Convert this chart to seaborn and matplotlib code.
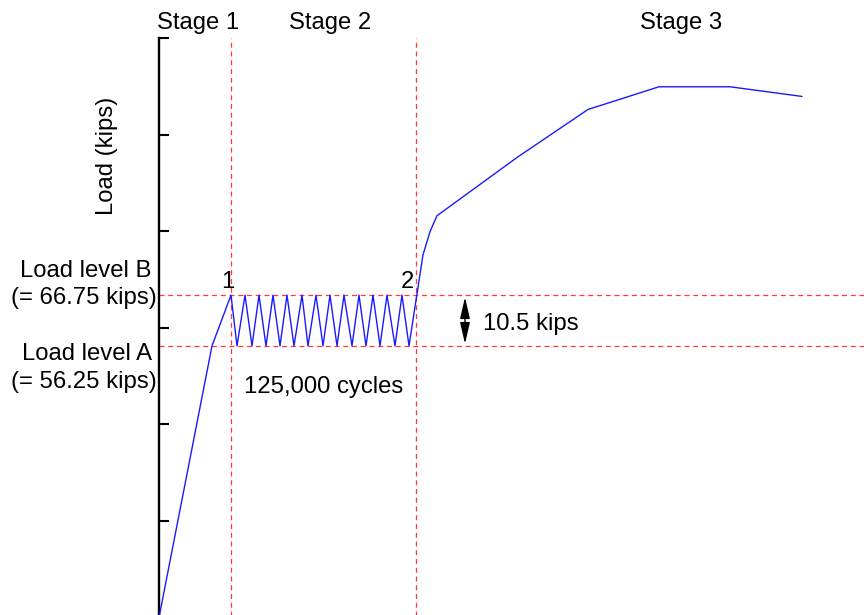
import numpy as np
import pandas as pd
import matplotlib
matplotlib.use("Agg")
import matplotlib.pyplot as plt
import seaborn as sns

# ---------------- data ----------------
# loading path (arbitrary time units along x, load in kips)
stage1_time = [0, 53, 72]
stage1_load = [0, 56.25, 66.75]

cycle_valley_time = [78, 93, 107, 121, 135, 149, 164, 178, 193, 207, 221, 236, 250]
cycle_peak_time = [86, 100, 114, 128, 143, 157, 171, 185, 200, 214, 228, 243]
load_level_A = 56.25
load_level_B = 66.75

stage3_time = [264, 271, 278, 359, 429, 500, 571, 643]
stage3_load = [75.1, 79.9, 83.2, 95.4, 105.2, 109.9, 109.9, 107.9]

stage_boundaries = [72, 257]
y_ticks = [0, 20, 40, 60, 80, 100, 120]
stage_labels = ["Stage 1", "Stage 2", "Stage 3"]

# build the full path
time = list(stage1_time)
load = list(stage1_load)
for i, tv in enumerate(cycle_valley_time):
    time.append(tv)
    load.append(load_level_A)
    if i < len(cycle_peak_time):
        time.append(cycle_peak_time[i])
        load.append(load_level_B)
time += stage3_time
load += stage3_load
df = pd.DataFrame({"time": time, "load": load})

# ---------------- figure ----------------
sns.set_theme(style="white")
plt.rcParams["font.family"] = ["Liberation Sans", "DejaVu Sans"]

W, H = 864, 615
fig = plt.figure(figsize=(W / 100, H / 100), dpi=100)
ax = fig.add_axes([159 / W, -2.5 / H, 1 - 159 / W, 579.5 / H])

sns.lineplot(data=df, x="time", y="load", sort=False, estimator=None,
             color="#1a1aff", lw=1.0, ax=ax, zorder=3)

red = "#ff3a3a"
for xb in stage_boundaries:
    ax.axvline(xb, color=red, lw=0.9, ls=(0, (4, 3)), zorder=1)
for yl in [load_level_A, load_level_B]:
    ax.axhline(yl, color=red, lw=0.9, ls=(0, (4, 3)), zorder=1)

ax.set_xlim(0, 705)
ax.set_ylim(0, 120)
ax.set_yticks(y_ticks)
ax.set_yticklabels([])
ax.set_xticks([])
ax.set_xlabel("")
ax.set_ylabel("")
for s in ["top", "right", "bottom"]:
    ax.spines[s].set_visible(False)
ax.spines["left"].set_linewidth(1.7)
ax.spines["left"].set_color("black")
ax.tick_params(axis="y", direction="in", length=7.5, width=1.5, color="black", left=True)

FS = 17.2
def ftext(px, py, s, **kw):
    fig.text(px / W, 1 - py / H, s, fontsize=FS, color="black", **kw)

# stage labels
ftext(198, 29, stage_labels[0], ha="center", va="baseline")
ftext(330, 29, stage_labels[1], ha="center", va="baseline")
ftext(681, 29, stage_labels[2], ha="center", va="baseline")

# y label
ftext(107, 156, "Load (kips)", rotation=90, ha="center", va="center")

# load levels
ftext(152, 277, "Load level B", ha="right", va="baseline")
ftext(157, 304, "(= 66.75 kips)", ha="right", va="baseline")
ftext(152, 360, "Load level A", ha="right", va="baseline")
ftext(157, 388, "(= 56.25 kips)", ha="right", va="baseline")

# point markers
ftext(228, 288, "1", ha="center", va="baseline")
ftext(407, 288, "2", ha="center", va="baseline")
ftext(324, 393, "125,000 cycles", ha="center", va="baseline")
ftext(531, 330, "10.5 kips", ha="center", va="baseline")

# double arrow showing amplitude
arrow_x = 306
ax.annotate("", xy=(arrow_x, load_level_B), xytext=(arrow_x, load_level_A),
            arrowprops=dict(arrowstyle="<|-|>,head_length=1.3,head_width=0.3",
                            color="black", lw=1.0, mutation_scale=10,
                            shrinkA=1.5, shrinkB=1.5))

fig.savefig("out.png", dpi=100, facecolor="white")
